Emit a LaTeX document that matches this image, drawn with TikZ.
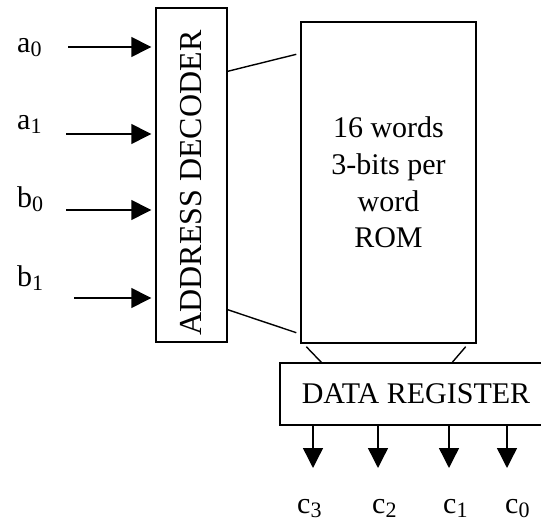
\documentclass[tikz,border=0pt]{standalone}
\usepackage{fontspec}
\setmainfont{Liberation Serif}
\usetikzlibrary{arrows.meta, positioning, calc}
\newcommand\subidx[1]{\raisebox{-4pt}{\fontsize{22}{22}\selectfont #1}}

\begin{document}
\begin{tikzpicture}[x=1pt, y=-1pt,
  box/.style={draw=black, line width=1.4pt, inner sep=0pt, align=center},
  txt/.style={font=\fontsize{30}{36.7}\selectfont, inner sep=0pt},
  lbl/.style={font=\fontsize{30}{36}\selectfont, inner sep=0pt, anchor=base west},
  arr/.style={-{Triangle[length=20pt, width=20pt]}, line width=1.4pt},
  wire/.style={line width=1.4pt}
]
\clip (0,0) rectangle (541,521);
% Address decoder
\node[box, minimum width=71pt, minimum height=334pt](dec) at (191.5,175){};
\node[txt, font=\fontsize{32}{36}\selectfont, rotate=90](dectxt) at ([yshift=-8pt]dec.center){ADDRESS DECODER};
% ROM
\node[box, txt, minimum width=175pt, minimum height=321pt](rom) at (388.5,182.5){16 words\\ 3-bits per\\ word\\ ROM};
% Data register
\node[box, txt, minimum width=272pt, minimum height=62pt](dr) at (416,394){DATA REGISTER};
% Inputs
\coordinate (in0) at (68,47);
\coordinate (in1) at (66,134);
\coordinate (in2) at (66,210);
\coordinate (in3) at (74,298);
\node[lbl](la0) at (17,53){a\subidx{0}};
\node[lbl](la1) at (17,130){a\subidx{1}};
\node[lbl](lb0) at (17,208){b\subidx{0}};
\node[lbl](lb1) at (17,287){b\subidx{1}};
\foreach \i in {0,...,3}
  \draw[arr, shorten >=4pt](in\i) -- (in\i -| dec.west);
% Outputs
\coordinate (out3) at (313,468);
\coordinate (out2) at (378,468);
\coordinate (out1) at (449,468);
\coordinate (out0) at (507,468);
\foreach \i in {0,...,3}
  \draw[arr](out\i |- dr.south) -- (out\i);
\node[lbl](lc3) at (297,513){c\subidx{3}};
\node[lbl](lc2) at (372,513){c\subidx{2}};
\node[lbl](lc1) at (443,513){c\subidx{1}};
\node[lbl](lc0) at (505,513){c\subidx{0}};
% Wires
\draw[wire]($(dec.north east)+(0,64)$) -- ($(rom.north west)+(-4,33)$);
\draw[wire]($(dec.south east)+(0,-33)$) -- ($(rom.south west)+(-4,-11)$);
\draw[wire]($(rom.south west)+(6,3)$) -- ($(dr.north west)+(42,0)$);
\draw[wire]($(rom.south east)+(-11,3)$) -- ($(dr.north west)+(173,0)$);
\end{tikzpicture}
\end{document}
